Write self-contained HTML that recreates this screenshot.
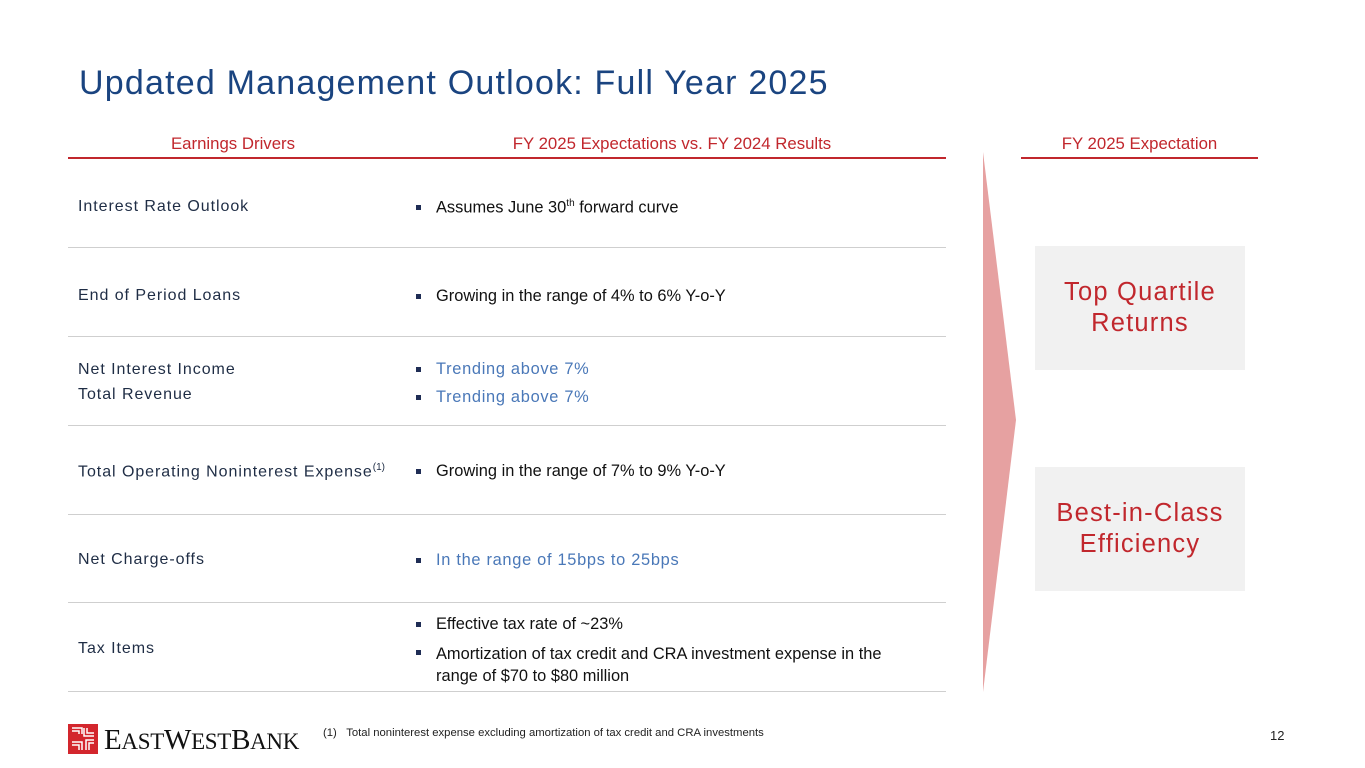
<!DOCTYPE html>
<html><head><meta charset="utf-8"><style>
body{margin:0;width:1365px;height:768px;background:#fff;position:relative;overflow:hidden;font-family:"Liberation Sans",sans-serif}
.a{position:absolute;white-space:nowrap}
.lbl{color:#1f2d45;font-size:16px;letter-spacing:0.95px;left:78px}
.b{font-size:16.4px;color:#111;left:416px}
.b:before{content:"";position:absolute;left:0;top:7px;width:5px;height:5px;background:#1f2d55}
.b span{padding-left:20px;display:inline-block}
.blue{color:#4a78b8;letter-spacing:0.7px}
.sep{position:absolute;left:68px;width:878px;height:1px;background:#cfcfcf}
.hdr{color:#c1272d;font-size:16.8px;text-align:center}
.box{position:absolute;left:1035px;width:210px;height:124px;background:#f1f1f1;color:#c1272d;font-size:25.5px;letter-spacing:1.2px;display:flex;align-items:center;justify-content:center;text-align:center;line-height:31px}
</style></head><body>
<div class="a" style="left:79px;top:64px;font-size:34px;color:#1a4480;letter-spacing:1.2px">Updated Management Outlook: Full Year 2025</div>
<div class="a hdr" style="left:68px;width:330px;top:134px">Earnings Drivers</div>
<div class="a hdr" style="left:398px;width:548px;top:134px">FY 2025 Expectations vs. FY 2024 Results</div>
<div class="a hdr" style="left:1021px;width:237px;top:134px">FY 2025 Expectation</div>
<div class="a" style="left:68px;top:157px;width:878px;height:2px;background:#c1272d"></div>
<div class="a" style="left:1021px;top:157px;width:237px;height:2px;background:#c1272d"></div>

<div class="a lbl" style="top:198px">Interest Rate Outlook</div>
<div class="a b" style="top:198px"><span>Assumes June 30<sup style="font-size:10px">th</sup> forward curve</span></div>
<div class="sep" style="top:247px"></div>

<div class="a lbl" style="top:287px">End of Period Loans</div>
<div class="a b" style="top:287px"><span>Growing in the range of 4% to 6% Y-o-Y</span></div>
<div class="sep" style="top:336px"></div>

<div class="a lbl" style="top:361px">Net Interest Income</div>
<div class="a lbl" style="top:386px">Total Revenue</div>
<div class="a b blue" style="top:360px"><span>Trending above 7%</span></div>
<div class="a b blue" style="top:388px"><span>Trending above 7%</span></div>
<div class="sep" style="top:425px"></div>

<div class="a lbl" style="top:462px">Total Operating Noninterest Expense<sup style="font-size:10px;letter-spacing:0">(1)</sup></div>
<div class="a b" style="top:462px"><span>Growing in the range of 7% to 9% Y-o-Y</span></div>
<div class="sep" style="top:514px"></div>

<div class="a lbl" style="top:551px">Net Charge-offs</div>
<div class="a b blue" style="top:551px"><span>In the range of 15bps to 25bps</span></div>
<div class="sep" style="top:602px"></div>

<div class="a lbl" style="top:640px">Tax Items</div>
<div class="a b" style="top:615px"><span>Effective tax rate of ~23%</span></div>
<div class="a b" style="top:643px;line-height:22px"><span>Amortization of tax credit and CRA investment expense in the<br>range of $70 to $80 million</span></div>
<div class="sep" style="top:691px"></div>

<svg class="a" style="left:975px;top:150px" width="50" height="545"><polygon points="8,2 41,270 8,542" fill="#e6a1a1"/></svg>

<div class="box" style="top:246px">Top Quartile<br>Returns</div>
<div class="box" style="top:467px">Best-in-Class<br>Efficiency</div>

<svg class="a" style="left:68px;top:724px" width="30" height="30">
<rect width="30" height="30" fill="#d3262d"/>
<g stroke="#fff" stroke-width="1.5" fill="none">
<path d="M4 4h10v6M4 7h7v3M16 4v8h10M19 4v5h7M26 16h-8v10M26 19h-5v7M14 26v-8H4M11 26v-5H4"/>
</g></svg>
<div class="a" style="left:104px;top:724px;font-family:'Liberation Serif',serif;font-size:29px;color:#111;letter-spacing:-0.3px">E<span style="font-size:23px">AST</span>W<span style="font-size:23px">EST</span>B<span style="font-size:23px">ANK</span></div>
<div class="a" style="left:323px;top:727px;font-size:11.3px;color:#222">(1)&nbsp;&nbsp;&nbsp;Total noninterest expense excluding amortization of tax credit and CRA investments</div>
<div class="a" style="left:1270px;top:728px;font-size:13px;color:#222">12</div>
</body></html>
